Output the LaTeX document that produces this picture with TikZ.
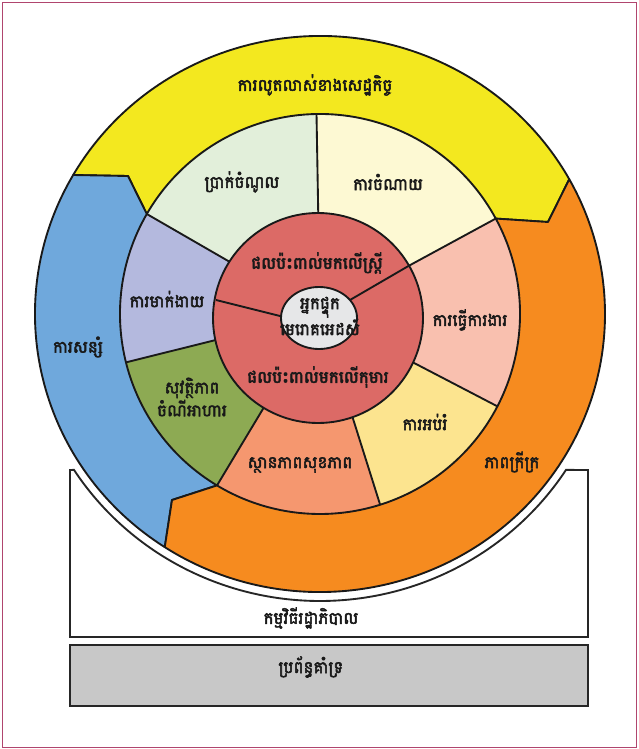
\documentclass[tikz,border=0pt]{standalone}
\usepackage{fontspec}
\newfontfamily\khmerfont[Script=Khmer, FakeBold=3]{Battambang}
\usetikzlibrary{calc}

\definecolor{growthyellow}{HTML}{F3E81F}
\definecolor{savingblue}{HTML}{6FA8DC}
\definecolor{povertyorange}{HTML}{F68B1F}
\definecolor{incomegreen}{HTML}{E2EFDA}
\definecolor{spendyellow}{HTML}{FDF9D3}
\definecolor{workpink}{HTML}{F9C0AF}
\definecolor{eduyellow}{HTML}{FCE48F}
\definecolor{healthsalmon}{HTML}{F5976F}
\definecolor{foodolive}{HTML}{8DAA53}
\definecolor{stigmalilac}{HTML}{B4B9DE}
\definecolor{impactred}{HTML}{DC6A66}
\definecolor{hivgray}{HTML}{E6E7E8}
\definecolor{supportgray}{HTML}{C8C8C8}
\definecolor{framepink}{HTML}{B0456E}

\begin{document}
\begin{tikzpicture}[x=0.03cm, y=-0.03cm,
    every node/.style={font=\khmerfont\fontsize{14.3}{19.5}\selectfont,
                       align=center, text=black!90, inner sep=1pt},
    piece/.style={draw=black!90, line width=1.6pt, line join=round},
    spoke/.style={draw=black!90, line width=1.6pt},
    box/.style={draw=black!85, line width=1.6pt}
]
\useasboundingbox (0,0) rectangle (638,749);
\draw[framepink, line width=0.8pt] (2,2) rectangle (636,747);

\begin{scope}[shift={(320,314)}]
% government programmes and support system
\filldraw[box, fill=white] (-250,323) -- (-250,156) -- (147.1:293 and 287)
    arc[start angle=147.1, end angle=32.9, x radius=293, y radius=287]
    -- (268,156) -- (268,323) -- cycle;
\filldraw[box, fill=supportgray] (-250,331) rectangle (268,392);

% middle ring
\foreach \a/\b/\c in {-150/-91/incomegreen, -91/-28.5/spendyellow,
    -28.5/27.5/workpink, 27.5/72.5/eduyellow, 72.5/121/healthsalmon,
    121/166/foodolive, 166/210/stigmalilac}
  \fill[\c] (0,0) -- (\a:200) arc[start angle=\a, end angle=\b, radius=200] -- cycle;

% outer ring
\coordinate (yL) at (-150:285 and 278);
\coordinate (yR) at (-29:285 and 278);
\coordinate (oL) at (123:285 and 278);
\coordinate (mA) at (-150:200);
\coordinate (mC) at (-28.5:200);
\coordinate (mF) at (121:200);
\coordinate (kY) at (228,-92);
\coordinate (kB) at (-192,-138);
\coordinate (kO) at (-148,186);

\filldraw[piece, fill=growthyellow] (yL)
    arc[start angle=-150, end angle=-29, x radius=285, y radius=278]
    -- (kY) -- (mC) arc[start angle=-28.5, end angle=-150, radius=200]
    -- (kB) -- cycle;
\filldraw[piece, fill=savingblue] (oL)
    arc[start angle=123, end angle=210, x radius=285, y radius=278]
    -- (kB) -- (mA) arc[start angle=210, end angle=121, radius=200]
    -- (kO) -- cycle;
\filldraw[piece, fill=povertyorange] (mC)
    arc[start angle=-28.5, end angle=121, radius=200] -- (kO) -- (oL)
    arc[start angle=123, end angle=-29, x radius=285, y radius=278]
    -- (kY) -- cycle;

\foreach \a in {-150,-91,-28.5,27.5,72.5,121,166}
  \draw[spoke] (\a:95) -- (\a:200);

% impact circle and centre
\filldraw[piece, fill=impactred] (-2,4) circle[radius=105];
\draw[spoke] (-1,4) -- (-28.5:101.3);
\draw[spoke] (-36,3) -- (-104,-14);
\filldraw[piece, fill=hivgray] (-1,4) ellipse[x radius=38, y radius=31];
\end{scope}

\node (growth)   at (315,85)  {ការលូតលាស់ខាងសេដ្ឋកិច្ច};
\node (income)   at (242,182) {ប្រាក់ចំណូល};
\node (spending) at (388,182) {ការចំណាយ};
\node (stigma)   at (167,299) {ការមាក់ងាយ};
\node (women)    at (317,263) {ផលប៉ះពាល់មកលើស្ត្រី};
\node (hiv)      at (320,316) {អ្នកផ្ទុក\\មេរោគអេដស៍};
\node (children) at (318,377) {ផលប៉ះពាល់មកលើកុមារ};
\node (work)     at (470,320) {ការធ្វើការងារ};
\node (food)     at (192,397) {សុវត្ថិភាព\\ចំណីអាហារ};
\node (health)   at (300,465) {ស្ថានភាពសុខភាព};
\node (edu)      at (425,422) {ការអប់រំ};
\node (saving)   at (78,347)  {ការសន្សំ};
\node (poverty)  at (512,462) {ភាពក្រីក្រ};
\node (govt)     at (311,618) {កម្មវិធីរដ្ឋាភិបាល};
\node (support)  at (311,667) {ប្រព័ន្ធគាំទ្រ};
\end{tikzpicture}
\end{document}
